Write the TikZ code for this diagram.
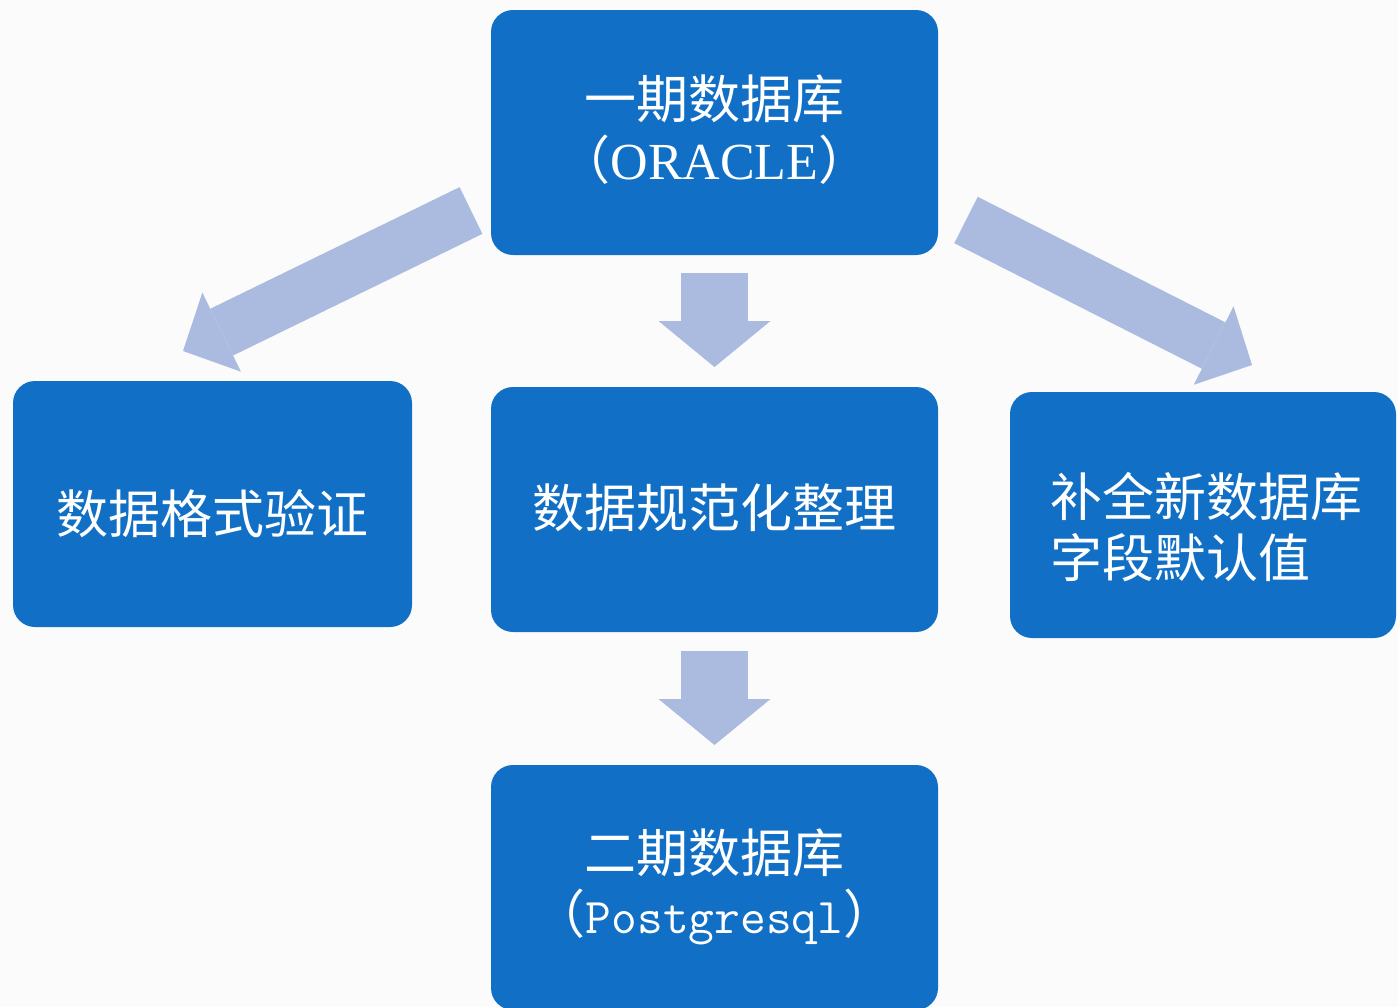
\documentclass[tikz,border=0pt]{standalone}
\usepackage{fontspec}
\usepackage{tikz}
\usetikzlibrary{arrows.meta}
\newfontfamily\cjk{Noto Sans CJK SC}
\newfontfamily\latinserif{Liberation Serif}
\definecolor{boxblue}{HTML}{1170C6}
\definecolor{arrowblue}{HTML}{ABBBDF}
\definecolor{paper}{HTML}{FBFBFB}
\newcommand{\lpar}[1]{\hspace*{-#1}（}
\newcommand{\rpar}[1]{）\hspace*{-#1}}

\begin{document}
\begin{tikzpicture}[x=1pt, y=-1pt]
\tikzstyle{box} = [rectangle, rounded corners=22pt, fill=boxblue, inner sep=0pt, minimum width=447pt, minimum height=245pt]
\tikzstyle{txt} = [text=white, inner sep=0pt, font=\cjk\fontsize{52}{61}\selectfont, align=center]
\tikzstyle{down} = [line width=67pt, color=arrowblue, -{Triangle[width=112pt, length=46pt, line width=0pt]}]
\tikzstyle{slant} = [line width=52pt, color=arrowblue, -{Triangle[width=88pt, length=43pt, line width=0pt]}]
\useasboundingbox (0,0) rectangle (1398,1007);
\fill[paper] (0,0) rectangle (1398,1007);
\clip (0,0) rectangle (1398,1007);
% boxes
\node[box, label={[txt, yshift=3pt]center:一期数据库\\\lpar{22pt}{\latinserif ORACLE}\rpar{22pt}}] (old) at (714.5,132.5) {};
\node[box, minimum width=399pt, minimum height=246pt, label={[txt, yshift=-10pt]center:数据格式验证}] (check) at (212.5,504) {};
\node[box, label={[txt, yshift=2pt]center:数据规范化整理}] (norm) at (714.5,509.5) {};
\node[box, minimum width=386pt, minimum height=246pt, label={[txt, align=left, yshift=-12pt, xshift=3pt]center:补全新数据库\\字段默认值}] (defaults) at (1203,515) {};
\node[box, label={[txt, yshift=1pt]center:二期数据库\\\lpar{12pt}{\ttfamily\fontsize{50}{61}\selectfont Postgresql}\rpar{12pt}}] (new) at (714.5,887.5) {};
% block arrows
\coordinate (d1s) at (714.5,273);
\coordinate (d1e) at (714.5,367);
\coordinate (d2s) at (714.5,651);
\coordinate (d2e) at (714.5,745);
\coordinate (ls) at (471,210.5);
\coordinate (le) at (183,351);
\coordinate (rs) at (966,220);
\coordinate (re) at (1252,365);
\draw[down] (d1s) -- (d1e);
\draw[down] (d2s) -- (d2e);
\draw[slant] (ls) -- (le);
\draw[slant] (rs) -- (re);
\end{tikzpicture}
\end{document}
